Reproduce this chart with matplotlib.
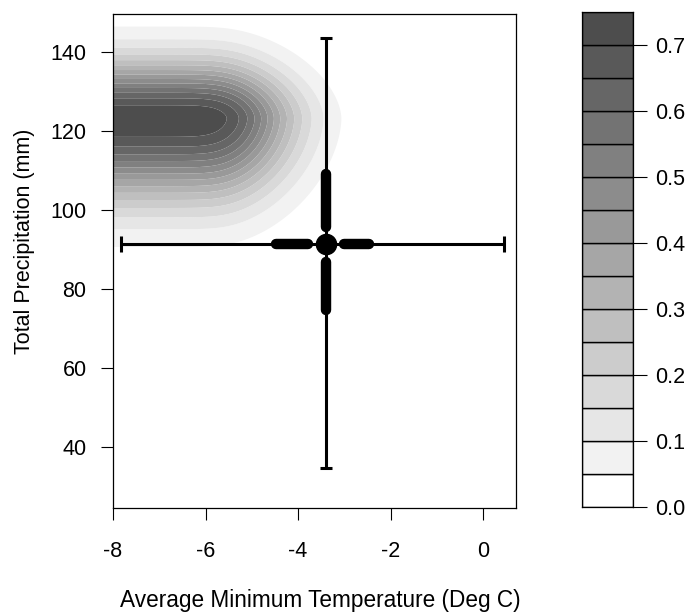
import numpy as np
import matplotlib as mpl
mpl.use("Agg")
import matplotlib.pyplot as plt

# ---- data ----
LEVELS = np.round(np.arange(0, 0.80, 0.05), 2)          # 0.00 .. 0.75
GREYS = [str(round(1 - 0.05 * i, 2)) for i in range(len(LEVELS) - 1)]
CBAR_TICKS = [0.0, 0.1, 0.2, 0.3, 0.4, 0.5, 0.6, 0.7]

XLIM = (-8.0, 0.71)
YLIM = (24.7, 149.6)
XTICKS = [-8, -6, -4, -2, 0]
YTICKS = [40, 60, 80, 100, 120, 140]

# density surface: plateau to the left of PLATEAU_X, peak along MODE_P
PEAK = 0.74
PLATEAU_X = -5.85
SOFT_X = 0.3
SPREAD_X = 1.2
MODE_P = 123.2
SPREAD_P_UP = 10.0
SPREAD_P_DOWN = 14.0
SHAPE_Q = 1.75

# summary cross
MEAN_T, MEAN_P = -3.40, 91.4
T_RANGE = (-7.83, 0.44)
P_RANGE = (34.7, 143.5)
T_BOX = [(-4.48, -3.79), (-3.01, -2.46)]
P_BOX = [(95.8, 109.2), (74.8, 86.9)]

XLABEL = "Average Minimum Temperature (Deg C)"
YLABEL = "Total Precipitation (mm)"

plt.rcParams.update({"font.family": ["Liberation Sans", "DejaVu Sans"], "font.size": 15.5})

W, H = 693, 616
fig = plt.figure(figsize=(W / 100, H / 100), dpi=100)
ax = fig.add_axes([113 / W, (H - 508) / H, 403 / W, 494 / H])
cax = fig.add_axes([582 / W, (H - 507) / H, 51 / W, 495 / H])

# surface
gx = np.linspace(XLIM[0], XLIM[1], 400)
gy = np.linspace(YLIM[0], YLIM[1], 400)
X, Y = np.meshgrid(gx, gy)
dx = SOFT_X * np.logaddexp(0, (X - PLATEAU_X) / SOFT_X) / SPREAD_X
dy = np.where(Y > MODE_P, (Y - MODE_P) / SPREAD_P_UP, (MODE_P - Y) / SPREAD_P_DOWN)
r = (dx ** SHAPE_Q + dy ** SHAPE_Q) ** (1 / SHAPE_Q)
Z = PEAK * np.exp(-r ** 2 / 2)
ax.contourf(X, Y, Z, levels=LEVELS, colors=GREYS, antialiased=True)

# whiskers
ax.errorbar(MEAN_T, MEAN_P, xerr=[[MEAN_T - T_RANGE[0]], [T_RANGE[1] - MEAN_T]],
            fmt="none", ecolor="black", elinewidth=2.2, capsize=6, capthick=2.2, zorder=4)
ax.errorbar(MEAN_T, MEAN_P, yerr=[[MEAN_P - P_RANGE[0]], [P_RANGE[1] - MEAN_P]],
            fmt="none", ecolor="black", elinewidth=2.2, capsize=4.5, capthick=2.2, zorder=4)
for a, b in T_BOX:
    ax.plot([a, b], [MEAN_P, MEAN_P], color="black", lw=7.5, solid_capstyle="round", zorder=5)
for a, b in P_BOX:
    ax.plot([MEAN_T, MEAN_T], [a, b], color="black", lw=7.5, solid_capstyle="round", zorder=5)
ax.plot(MEAN_T, MEAN_P, "o", color="black", ms=14.5, zorder=6)

ax.set_xlim(*XLIM); ax.set_ylim(*YLIM)
ax.set_xticks(XTICKS); ax.set_yticks(YTICKS)
ax.set_xticklabels([str(v) for v in XTICKS])
ax.tick_params(axis="x", direction="out", length=8.5, width=0.8, pad=15)
ax.tick_params(axis="y", direction="out", length=9, width=0.8, pad=10)
for s in ax.spines.values(): s.set_linewidth(0.9)

fig.text(320 / W, 1 - 601 / H, XLABEL, ha="center", va="center", fontsize=16.3)
fig.text(25 / W, 1 - 241 / H, YLABEL, ha="center", va="center", rotation=90)

# colour key
cax.bar(0.5, np.diff(LEVELS), bottom=LEVELS[:-1], width=1, color=GREYS,
        edgecolor="black", linewidth=1)
cax.set_xlim(0, 1); cax.set_ylim(LEVELS[0], LEVELS[-1])
cax.set_xticks([])
cax.yaxis.tick_right()
cax.set_yticks(CBAR_TICKS)
cax.set_yticklabels([f"{v:.1f}" for v in CBAR_TICKS])
cax.tick_params(axis="y", direction="out", length=10, width=0.8, pad=6)
for s in cax.spines.values(): s.set_linewidth(0.9)

fig.savefig("out.png", dpi=100)
